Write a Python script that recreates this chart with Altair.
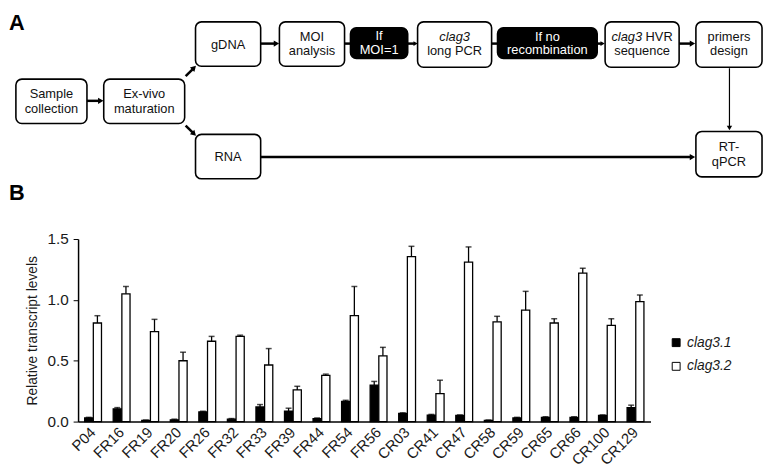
import altair as alt
import pandas as pd

FONT = "Liberation Sans"

# ---------------- Panel B data ----------------
samples = ["P04", "FR16", "FR19", "FR20", "FR26", "FR32", "FR33", "FR39", "FR44", "FR54",
           "FR56", "CR03", "CR41", "CR47", "CR58", "CR59", "CR65", "CR66", "CR100", "CR129"]
genes = ["clag3.1", "clag3.2"]
clag31 = [0.03, 0.105, 0.01, 0.015, 0.08, 0.02, 0.12, 0.085, 0.025, 0.165,
          0.30, 0.067, 0.054, 0.05, 0.01, 0.03, 0.035, 0.035, 0.05, 0.115]
clag31_sd = [0.005, 0.01, 0.003, 0.005, 0.005, 0.005, 0.02, 0.025, 0.005, 0.01,
             0.03, 0.005, 0.005, 0.005, 0.003, 0.005, 0.005, 0.005, 0.005, 0.02]
clag32 = [0.81, 1.05, 0.74, 0.50, 0.66, 0.70, 0.465, 0.26, 0.38, 0.87,
          0.54, 1.355, 0.23, 1.31, 0.82, 0.915, 0.81, 1.22, 0.79, 0.985]
clag32_sd = [0.06, 0.06, 0.10, 0.07, 0.04, 0.01, 0.135, 0.03, 0.01, 0.24,
             0.07, 0.085, 0.11, 0.125, 0.045, 0.155, 0.035, 0.04, 0.055, 0.055]

# ---------------- Panel A flowchart layout ----------------
node_name = ["sample", "exvivo", "gdna", "moi", "ifmoi", "longpcr", "ifnorec", "hvr", "primers", "rna", "rtqpcr"]
node_x1 = [15, 104, 197, 282, 354, 422, 503, 612, 704, 197, 704]
node_x2 = [87, 186, 263, 348, 412, 497, 604, 687, 771, 263, 771]
node_y1 = [75, 75, 17, 17, 23, 17, 23, 17, 17, 131, 128]
node_y2 = [120, 120, 62, 62, 54, 63, 54, 63, 63, 176, 174]
node_fill = ["white", "white", "white", "white", "black", "white", "black", "white", "white", "white", "white"]

# text lines: x, y, text, italic, align, color
txt_x = [51, 51, 145, 145, 230, 315, 315, 383, 383, 459.5, 459.5, 553.5, 553.5, 649.5, 653, 649.5, 737.5, 737.5, 230, 737.5, 737.5]
txt_y = [90, 105, 90, 105, 40, 32, 47, 31, 46, 32, 47, 32, 46, 32, 32, 47, 32, 47, 154, 144, 159]
txt_s = ["Sample", "collection", "Ex-vivo", "maturation", "gDNA", "MOI", "analysis", "If", "MOI=1",
         "clag3", "long PCR", "If no", "recombination", "clag3", "HVR", "sequence", "primers", "design",
         "RNA", "RT-", "qPCR"]
txt_it = [0, 0, 0, 0, 0, 0, 0, 0, 0, 1, 0, 0, 0, 1, 0, 0, 0, 0, 0, 0, 0]
txt_al = ["center"] * 13 + ["right", "left"] + ["center"] * 6
txt_col = ["#111111"] * 7 + ["white", "white"] + ["#111111"] * 2 + ["white", "white"] + ["#111111"] * 8

# arrow shafts
ar_x1 = [87, 187, 187, 263, 348, 412, 497, 604, 687, 738, 263]
ar_y1 = [97, 72, 122, 39, 39, 39, 39, 39, 39, 64, 154]
ar_x2 = [100, 194, 194, 278, 354, 419, 503, 609, 700, 738, 699]
ar_y2 = [97, 65, 129, 39, 39, 39, 39, 39, 39, 123, 154]
ar_w = [2.5, 2.5, 2.5, 2.5, 2.5, 2.5, 2.5, 2.5, 2.5, 1.2, 2.5]
# arrow heads
hd_x = [101, 195.5, 195.5, 279, 420, 609.5, 700.5, 738, 700.5]
hd_y = [97, 63.5, 130.5, 39, 39, 39, 39, 124.5, 154]
hd_a = [90, 45, 135, 90, 90, 90, 90, 180, 90]
hd_s = [40, 40, 40, 40, 25, 25, 40, 30, 40]

# ---------------- Panel A chart ----------------
W_TOP, H_TOP = 694, 219
xs = alt.Scale(domain=[78, 772], nice=False, zero=False)
ys = alt.Scale(domain=[8, 227], reverse=True, nice=False, zero=False)

boxes = pd.DataFrame({"name": node_name, "x1": node_x1, "x2": node_x2,
                      "y1": node_y1, "y2": node_y2, "fill": node_fill})
rects = alt.Chart(boxes).mark_rect(cornerRadius=6, stroke="black", strokeWidth=1.6).encode(
    x=alt.X("x1:Q", scale=xs, axis=None), x2="x2:Q",
    y=alt.Y("y1:Q", scale=ys, axis=None), y2="y2:Q",
    fill=alt.Fill("fill:N", scale=None),
)

texts = pd.DataFrame({"x": txt_x, "y": txt_y, "t": txt_s, "it": txt_it, "al": txt_al, "c": txt_col})
text_layers = []
for it in (0, 1):
    for al in ("center", "left", "right"):
        sub = texts[(texts.it == it) & (texts.al == al)]
        if len(sub) == 0:
            continue
        text_layers.append(
            alt.Chart(sub).mark_text(fontSize=13, font=FONT, align=al, baseline="middle",
                                     fontStyle="italic" if it else "normal").encode(
                x=alt.X("x:Q", scale=xs, axis=None),
                y=alt.Y("y:Q", scale=ys, axis=None),
                text="t:N",
                color=alt.Color("c:N", scale=None),
            )
        )

arrows = pd.DataFrame({"x1": ar_x1, "y1": ar_y1, "x2": ar_x2, "y2": ar_y2, "w": ar_w})
shafts = alt.Chart(arrows).mark_rule(color="black").encode(
    x=alt.X("x1:Q", scale=xs, axis=None), x2="x2:Q",
    y=alt.Y("y1:Q", scale=ys, axis=None), y2="y2:Q",
    strokeWidth=alt.StrokeWidth("w:Q", scale=None),
)
heads_df = pd.DataFrame({"x": hd_x, "y": hd_y, "a": hd_a, "s": hd_s})
heads = alt.Chart(heads_df).mark_point(shape="triangle-up", filled=True, color="black", opacity=1).encode(
    x=alt.X("x:Q", scale=xs, axis=None),
    y=alt.Y("y:Q", scale=ys, axis=None),
    angle=alt.Angle("a:Q", scale=None),
    size=alt.Size("s:Q", scale=None),
)

panel_df = pd.DataFrame({"x": [8, 8], "y": [8, 180], "t": ["A", "B"]})
panel_lbl = alt.Chart(panel_df).mark_text(fontSize=22, fontWeight="bold", font=FONT,
                                          align="left", baseline="top", color="black").encode(
    x=alt.X("x:Q", scale=xs, axis=None),
    y=alt.Y("y:Q", scale=ys, axis=None),
    text="t:N",
)

top = alt.layer(rects, shafts, heads, *text_layers, panel_lbl).properties(width=W_TOP, height=H_TOP)

# ---------------- Panel B chart ----------------
long = pd.DataFrame({
    "sample": samples * 2,
    "gene": [genes[0]] * len(samples) + [genes[1]] * len(samples),
    "value": clag31 + clag32,
    "sd": clag31_sd + clag32_sd,
})
long["top"] = long["value"] + long["sd"]

yscale = alt.Scale(domain=[0, 1.5], nice=False)
base = alt.Chart(long).encode(
    x=alt.X("sample:N", sort=samples,
            scale=alt.Scale(paddingInner=0.41, paddingOuter=0.23),
            axis=alt.Axis(title=None, labelAngle=315, labelAlign="right", labelBaseline="middle",
                          ticks=False, labelFontSize=15, labelPadding=8, labelColor="#1a1a1a",
                          domainColor="black", domainWidth=1.5, labelFont=FONT)),
    xOffset=alt.XOffset("gene:N", sort=genes, scale=alt.Scale(paddingInner=0.06)),
)
bars = base.mark_bar(stroke="black", strokeWidth=1.3).encode(
    y=alt.Y("value:Q", scale=yscale,
            axis=alt.Axis(values=[0, 0.5, 1, 1.5], format=".1f", title="Relative transcript levels",
                          grid=False, tickSize=5, tickColor="black", domainColor="black",
                          domainWidth=1.5, labelFontSize=15.5, titleFontSize=14,
                          titleFontWeight="normal", titlePadding=8, labelPadding=5,
                          labelColor="#1a1a1a", titleColor="#1a1a1a", labelFont=FONT, titleFont=FONT)),
    fill=alt.Fill("gene:N", scale=alt.Scale(domain=genes, range=["black", "white"]),
                  legend=alt.Legend(orient="none", legendX=599, legendY=327, title=None,
                                    symbolType="square", symbolSize=64, symbolStrokeColor="black",
                                    symbolStrokeWidth=1, labelFontSize=14, labelFontStyle="italic",
                                    labelColor="#1a1a1a", labelFont=FONT, rowPadding=10, padding=0,
                                    labelOffset=4)),
)
err = base.mark_rule(color="black", strokeWidth=1.3).encode(
    y=alt.Y("value:Q", scale=yscale), y2="top:Q")
cap = base.mark_tick(color="black", thickness=1.5, size=6).encode(
    y=alt.Y("top:Q", scale=yscale))

bottom = alt.layer(bars, err, cap).properties(width=580, height=185)

chart = alt.vconcat(top, bottom, spacing=10).properties(
    padding=0, bounds="flush"
).configure(font=FONT, view=alt.ViewConfig(stroke="transparent"))

chart.save("out.html", embed_options={"renderer": "svg", "actions": False})
